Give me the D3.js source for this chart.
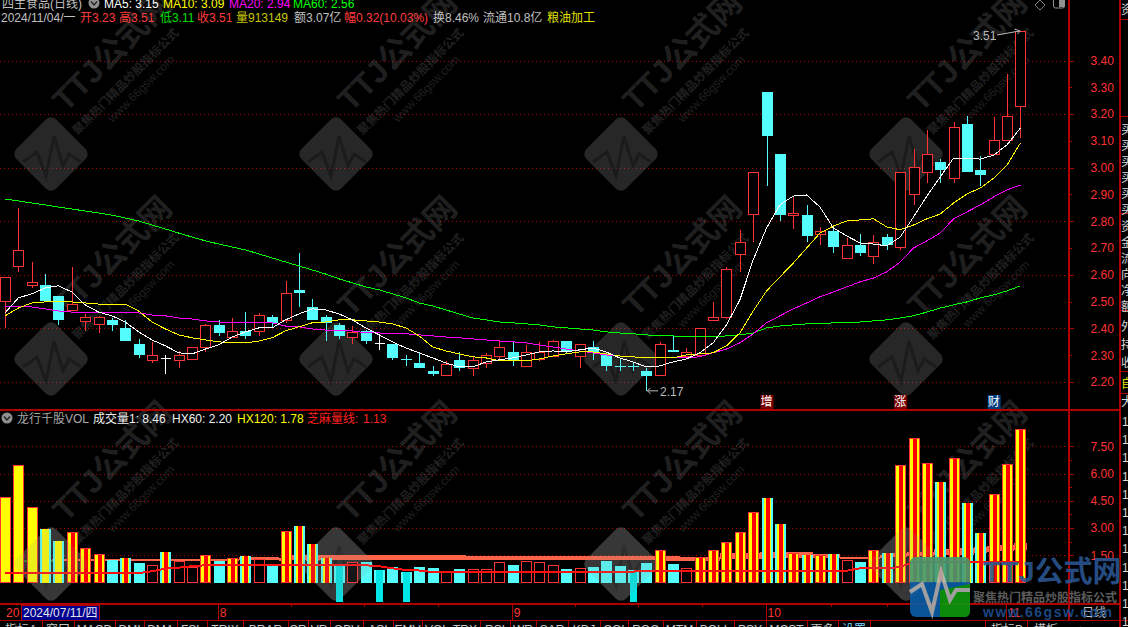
<!DOCTYPE html>
<html>
<head>
<meta charset="utf-8">
<script src="https://cdn.jsdelivr.net/npm/d3@7/dist/d3.min.js"></script>
<style>
  html, body { margin: 0; background: #000; overflow: hidden; }
  svg { display: block; }
  text { font-family: "Liberation Sans", "Noto Sans CJK SC", sans-serif; font-size: 12px; }
</style>
</head>
<body>
<svg id="s" width="1128" height="627"></svg>
<script>
// Daily prices, one entry per session
const opens = [2.500,2.632,2.560,2.562,2.521,2.470,2.429,2.418,2.432,2.402,2.342,2.280,2.289,2.280,2.287,2.330,2.413,2.368,2.390,2.388,
  2.443,2.429,2.544,2.480,2.443,2.413,2.370,2.392,2.342,2.342,2.287,2.271,2.241,2.228,2.283,2.252,2.269,2.298,2.312,2.258,
  2.286,2.298,2.353,2.298,2.330,2.301,2.259,2.259,2.241,2.226,2.319,2.297,2.301,2.429,2.442,2.679,2.828,3.282,3.051,2.821,
  2.823,2.750,2.765,2.660,2.711,2.668,2.741,2.702,2.901,2.981,3.021,2.959,3.163,2.991,3.048,3.101,3.23],
  closes = [2.591,2.692,2.572,2.503,2.432,2.491,2.443,2.443,2.413,2.353,2.301,2.300,2.289,2.300,2.330,2.412,2.383,2.390,2.372,2.449,
  2.419,2.531,2.532,2.432,2.420,2.372,2.388,2.353,2.342,2.289,2.284,2.254,2.231,2.269,2.254,2.281,2.300,2.330,2.284,2.311,
  2.311,2.353,2.311,2.341,2.311,2.260,2.254,2.255,2.223,2.341,2.312,2.311,2.401,2.442,2.621,2.722,2.983,3.116,2.823,2.830,
  2.743,2.763,2.705,2.710,2.683,2.722,2.711,2.983,3.001,3.050,2.991,3.151,2.984,2.973,3.102,3.192,3.51],
  highs = [2.591,2.848,2.647,2.602,2.521,2.628,2.454,2.447,2.438,2.432,2.361,2.350,2.301,2.315,2.330,2.416,2.432,2.439,2.462,2.459,
  2.449,2.577,2.682,2.510,2.450,2.420,2.409,2.394,2.376,2.342,2.301,2.311,2.260,2.279,2.311,2.297,2.310,2.355,2.352,2.339,
  2.351,2.357,2.353,2.342,2.353,2.309,2.291,2.270,2.252,2.351,2.375,2.326,2.401,2.498,2.628,2.768,2.983,3.282,3.051,2.892,
  2.861,2.780,2.780,2.739,2.753,2.749,2.753,2.983,3.070,3.141,3.032,3.170,3.193,3.044,3.189,3.350,3.51],
  lows = [2.403,2.612,2.552,2.503,2.413,2.470,2.392,2.384,2.392,2.353,2.291,2.272,2.231,2.254,2.284,2.313,2.373,2.363,2.362,2.373,
  2.401,2.422,2.480,2.432,2.353,2.361,2.342,2.342,2.320,2.283,2.260,2.253,2.224,2.224,2.241,2.224,2.254,2.283,2.261,2.258,
  2.280,2.297,2.305,2.254,2.283,2.241,2.241,2.241,2.167,2.226,2.312,2.295,2.301,2.429,2.434,2.612,2.724,2.933,2.800,2.771,
  2.724,2.711,2.683,2.660,2.670,2.642,2.693,2.693,2.861,2.944,2.944,2.943,2.984,2.932,3.048,3.101,3.11];

// Moving averages
const ma5 = [2.458,2.514,2.529,2.551,2.559,2.536,2.488,2.461,2.447,2.424,2.387,2.357,2.335,2.309,2.305,2.323,2.339,2.368,2.387,2.402,
  2.402,2.432,2.454,2.473,2.469,2.454,2.432,2.402,2.376,2.350,2.327,2.309,2.290,2.271,2.256,2.256,2.275,2.283,2.290,2.301,
  2.312,2.316,2.312,2.320,2.327,2.312,2.290,2.275,2.256,2.260,2.275,2.286,2.309,2.346,2.413,2.506,2.656,2.775,2.861,2.894,
  2.898,2.853,2.775,2.745,2.719,2.715,2.708,2.741,2.816,2.894,2.965,3.036,3.036,3.032,3.047,3.085,3.148],
  ma10 = [2.447,2.476,2.495,2.499,2.499,2.499,2.495,2.491,2.491,2.491,2.465,2.424,2.398,2.376,2.365,2.357,2.350,2.346,2.346,2.353,
  2.365,2.391,2.406,2.421,2.424,2.432,2.432,2.428,2.424,2.417,2.402,2.372,2.331,2.316,2.305,2.294,2.290,2.279,2.279,2.279,
  2.286,2.297,2.305,2.312,2.312,2.305,2.297,2.294,2.290,2.290,2.290,2.301,2.305,2.309,2.335,2.383,2.465,2.540,2.592,2.644,
  2.700,2.756,2.782,2.801,2.805,2.809,2.779,2.768,2.786,2.809,2.827,2.868,2.902,2.924,2.961,3.010,3.092],
  ma20 = [2.480,2.480,2.480,2.473,2.465,2.461,2.458,2.458,2.458,2.461,2.458,2.450,2.447,2.439,2.435,2.428,2.424,2.421,2.421,2.424,
  2.421,2.409,2.406,2.398,2.394,2.394,2.391,2.383,2.383,2.380,2.380,2.376,2.372,2.368,2.365,2.361,2.357,2.353,2.350,2.346,
  2.338,2.331,2.323,2.316,2.309,2.301,2.297,2.294,2.290,2.290,2.290,2.290,2.294,2.309,2.323,2.346,2.380,2.421,2.447,2.473,
  2.495,2.518,2.536,2.555,2.574,2.588,2.611,2.648,2.700,2.727,2.756,2.809,2.835,2.861,2.891,2.917,2.935],
  ma60 = [2.883,2.876,2.868,2.861,2.853,2.846,2.838,2.831,2.823,2.812,2.801,2.786,2.771,2.756,2.741,2.727,2.715,2.704,2.693,2.678,
  2.663,2.648,2.633,2.618,2.603,2.585,2.570,2.555,2.544,2.529,2.514,2.495,2.484,2.469,2.454,2.439,2.432,2.424,2.421,2.417,
  2.413,2.406,2.402,2.398,2.394,2.387,2.383,2.380,2.376,2.372,2.372,2.368,2.368,2.368,2.372,2.376,2.383,2.402,2.409,2.413,
  2.417,2.417,2.421,2.421,2.424,2.428,2.432,2.439,2.447,2.461,2.476,2.488,2.499,2.514,2.525,2.540,2.559];

// Volume panel. Kinds: Y yellow, U cyan/yellow, R red stripes, C cyan stripes, S solid cyan, H hollow red
const volume = [4.69,6.46,4.14,2.95,2.29,2.76,1.88,1.57,1.24,1.33,1.07,0.95,1.68,1.18,0.87,1.50,1.18,1.33,1.46,1.31,
  0.91,2.84,3.11,2.12,1.33,0.96,1.11,1.13,0.69,0.84,0.58,0.85,0.78,0.65,0.74,0.76,0.73,1.11,0.96,1.17,
  1.11,0.95,0.74,0.78,0.85,1.18,0.91,0.69,1.07,1.79,1.02,0.78,1.42,1.79,2.23,2.76,3.88,4.66,3.22,1.64,
  1.52,1.52,1.57,1.24,1.13,1.79,1.61,6.47,7.94,6.57,5.52,6.84,4.36,2.71,4.86,6.53,8.46],
  volumeKind = "YYYUURRRSCSHCHHRSRCHSRCCCSHSSSSSSHSHHHSHHHSHSSSSSRSHRRRRRCCRCRCHSRCRRRCRCCRRR".split(""),
  hx60 = [null,null,null,null,1.29,1.29,1.29,1.29,1.29,1.29,1.29,1.29,1.29,1.29,1.29,1.29,1.29,1.29,1.40,1.38,
  1.38,1.35,1.49,1.54,1.52,1.52,1.52,1.52,1.52,1.52,1.52,1.52,1.52,1.52,1.52,1.46,1.46,1.46,1.46,1.46,
  1.46,1.46,1.46,1.46,1.46,1.46,1.46,1.46,1.46,1.46,1.46,1.42,1.42,1.42,1.60,1.63,1.60,1.68,1.70,1.68,
  1.68,1.57,1.57,1.42,1.42,1.42,1.52,1.61,1.68,1.70,1.83,1.85,1.90,1.96,2.01,2.07,2.20],
  hx120 = [null,null,null,null,1.21,1.21,1.21,1.21,1.21,1.21,1.21,1.21,1.21,1.21,1.21,1.21,1.21,1.21,1.24,1.24,
  1.24,1.21,1.24,1.21,1.24,1.24,1.24,1.24,1.24,1.24,1.24,1.24,1.24,1.24,1.24,1.24,1.24,1.24,1.24,1.24,
  1.24,1.24,1.24,1.24,1.24,1.24,1.24,1.24,1.24,1.24,1.21,1.18,1.18,1.18,1.27,1.29,1.29,1.32,1.35,1.35,
  1.35,1.33,1.33,1.31,1.31,1.31,1.37,1.42,1.46,1.46,1.52,1.52,1.54,1.63,1.68,1.74,1.78],
  sesameLine = [0.52,0.52,0.52,0.52,0.52,0.52,0.52,0.52,0.52,0.52,0.52,0.62,0.76,0.82,0.90,0.95,0.95,0.95,0.95,0.95,
  0.95,0.95,0.95,0.95,0.95,0.95,0.95,0.95,0.90,0.78,0.69,0.66,0.58,0.58,0.58,0.58,0.58,0.58,0.58,0.58,
  0.58,0.58,0.58,0.58,0.58,0.58,0.58,0.60,0.65,0.65,0.65,0.65,0.65,0.65,0.65,0.65,0.65,0.65,0.65,0.65,
  0.65,0.65,0.65,0.65,0.78,0.78,0.78,0.85,1.13,1.13,1.13,1.13,1.13,1.13,1.13,1.13,1.13],
  earlyLine = [1.18,1.18,1.18,1.18,1.18],
  dropIndex = [25,28,30,47],
  dropTop = [0.96,0.69,0.58,0.60],
  dropLow = -1.06;

// Axis labels
const priceTicks = [2.2,2.3,2.4,2.5,2.6,2.7,2.8,2.9,3.0,3.1,3.2,3.3,3.4],
  priceGrid = [2.2,2.4,2.6,2.8,3.0,3.2,3.4],
  volumeTicks = [1.5,3,4.5,6,7.5],
  volumeMinor = [0.75,2.25,3.75,5.25,6.75],
  monthIndex = [16,38,57,75],
  monthLabels = ["8","9","10","11"],
  weekTicks = [21.4,26.9,32.4,42.7,47.4,52.2,61.8,66],
  signalIndex = [57,67,74],
  signalLabels = ["增","涨","财"],
  signalColors = ["#7a0000","#7a0000","#003c80"],
  tabNames = ["指标A","窗口","MACD","DMI","DMA","FSL","TRIX","BRAR","CR","VR","OBV","ASI","EMV","VOL-TRX","RSI","WR","SAR","KDJ","COI","ROC","MTM","BOLL","PSY","MCST","更多","设置"],
  tabEdges = [42,74,115,144,177,207,243,288,308,330,363,393,422,480,510,536,568,600,628,663,696,734,766,807,838,870];

const UP = "#ff3333", DOWN = "#54fcfc", LINE = "#b00000", GRID = "#b00000", SALMON = "#ff6347";

const svg = d3.select("#s"),
  x = d3.scaleLinear().domain([0, 76]).range([5, 1020.4]),
  y = d3.scaleLinear().domain([2.2, 3.4]).range([382, 60.5]),
  v = d3.scaleLinear().domain([0, 7.5]).range([582.5, 446.4]),
  px = i => Math.round(x(i)) + 0.5,
  ix = d3.range(opens.length);

svg.append("rect").attr("width", 1128).attr("height", 627).attr("fill", "#000");

// dotted gridlines
const gridLine = (sel, vals, sc) => sel.selectAll(null).data(vals).join("line")
  .attr("x1", 0).attr("x2", 1068)
  .attr("y1", d => Math.round(sc(d)) + 0.5).attr("y2", d => Math.round(sc(d)) + 0.5)
  .attr("stroke", GRID).attr("stroke-dasharray", "1 3").attr("shape-rendering", "crispEdges");
gridLine(svg.append("g"), priceGrid, y);
gridLine(svg.append("g"), volumeTicks, v);

// tiled site watermark sits under the price marks, the reference keeps them vivid
const wm = svg.append("g").attr("pointer-events", "none");
const WM = "#8c8c8c";
[-51, 154, 359, 564].forEach(dy => [51, 336, 621, 906].forEach(dx => {
  const logo = wm.append("g").attr("transform", `translate(${dx},${dy})`);
  logo.append("rect").attr("x", -28).attr("y", -28).attr("width", 56).attr("height", 56).attr("rx", 7)
    .attr("transform", "rotate(45)").attr("fill", WM).attr("opacity", 0.28);
  logo.append("path").attr("d", "M-28 8L-14 -2L-5 22L3 -18L12 12L18 0L30 8")
    .attr("fill", "none").attr("stroke", "#000").attr("stroke-opacity", 0.3).attr("stroke-width", 3);
  const tag = wm.append("g").attr("transform", `translate(${dx + 69},${dy - 95}) rotate(-45)`)
    .attr("fill", WM).attr("opacity", 0.22).attr("text-anchor", "middle");
  tag.append("text").style("font-size", "32px").style("font-weight", "bold").text("TTJ公式网");
  tag.append("text").attr("x", -12).attr("y", 24).style("font-size", "12px").style("font-weight", "bold").text("聚焦热门精品炒股指标公式");
  tag.append("text").attr("x", -6).attr("y", 40).style("font-size", "12px").text("www.66gsw.com");
}));

// candles
const candles = svg.append("g").selectAll("g").data(ix).join("g");
const colorOf = i => closes[i] > opens[i] ? UP : closes[i] < opens[i] ? DOWN : "#fff";
candles.append("line")
  .attr("x1", px).attr("x2", px)
  .attr("y1", i => y(highs[i])).attr("y2", i => y(lows[i]))
  .attr("stroke", colorOf).attr("shape-rendering", "crispEdges");
candles.filter(i => closes[i] > opens[i]).append("rect")
  .attr("x", i => px(i) - 5).attr("width", 10)
  .attr("y", i => Math.round(y(closes[i])) + 0.5)
  .attr("height", i => Math.round(y(opens[i]) - y(closes[i])))
  .attr("fill", "#000").attr("stroke", UP).attr("shape-rendering", "crispEdges");
candles.filter(i => closes[i] < opens[i]).append("rect")
  .attr("x", i => px(i) - 5.5).attr("width", 11)
  .attr("y", i => Math.round(y(opens[i])))
  .attr("height", i => Math.max(1, Math.round(y(closes[i]) - y(opens[i]))))
  .attr("fill", DOWN).attr("shape-rendering", "crispEdges");
candles.filter(i => closes[i] === opens[i]).append("line")
  .attr("x1", i => px(i) - 5).attr("x2", i => px(i) + 5)
  .attr("y1", i => y(opens[i])).attr("y2", i => y(opens[i]))
  .attr("stroke", "#fff").attr("shape-rendering", "crispEdges");

// moving averages
const maLine = d3.line().x((d, i) => x(i)).y(d => y(d));
[[ma60, "#00ff00"], [ma20, "#ff00ff"], [ma10, "#ffff00"], [ma5, "#ffffff"]].forEach(([s, c]) => {
  svg.append("path").attr("d", maLine(s)).attr("fill", "none").attr("stroke", c).attr("stroke-width", 1).attr("shape-rendering", "crispEdges");
});

// extreme price callouts
const note = (i, val, tx, ty, x1, y1, x2, y2) => {
  svg.append("text").attr("x", tx).attr("y", ty).attr("fill", "#b8b8b8").text(val.toFixed(2));
  svg.append("line").attr("x1", x1).attr("y1", y1).attr("x2", x2).attr("y2", y2).attr("stroke", "#b8b8b8");
};
note(76, highs[76], 973, 40, 997, 35, x(76) - 1, y(3.51));
note(48, lows[48], 660, 396, px(48) + 1, y(2.167), 658, y(2.167));
svg.append("path").attr("d", `M${x(76) - 6} ${y(3.51) - 2}L${x(76)} ${y(3.51)}L${x(76) - 3} ${y(3.51) + 3}`).attr("fill", "none").attr("stroke", "#b8b8b8");
svg.append("path").attr("d", `M${px(48) + 4} ${y(2.167) - 3}L${px(48) + 1} ${y(2.167)}L${px(48) + 4} ${y(2.167) + 3}`).attr("fill", "none").attr("stroke", "#b8b8b8");

// signal chips along the bottom of the price panel
const chips = svg.append("g").selectAll("g").data(signalIndex).join("g");
chips.append("rect").attr("x", d => x(d) - 6).attr("y", 395).attr("width", 13).attr("height", 14)
  .attr("fill", (d, i) => signalColors[i]);
chips.append("text").attr("x", d => x(d) - 6).attr("y", 406).attr("fill", "#fff").text((d, i) => signalLabels[i]);

// volume band behind the bars
const bandIx = ix.filter(i => hx60[i] !== null);
svg.append("g").attr("shape-rendering", "crispEdges").selectAll("rect").data(bandIx).join("rect")
  .attr("x", i => x(i) - 6.7).attr("width", 13.4)
  .attr("y", i => v(hx60[i])).attr("height", i => v(hx120[i]) - v(hx60[i]))
  .attr("fill", SALMON);
svg.append("path")
  .attr("d", d3.line().x((d, i) => x(i)).y(d => v(d))(earlyLine))
  .attr("fill", "none").attr("stroke", "#30d030").attr("stroke-dasharray", "5 4");

// volume bars
const bars = svg.append("g").attr("shape-rendering", "crispEdges").selectAll("g").data(ix).join("g");
const barY = i => Math.round(v(volume[i])), barH = i => Math.round(v(0)) - barY(i);
const fillFor = { Y: "#ffff00", U: DOWN, R: "#ffff00", C: DOWN, S: DOWN, H: "#000" };
bars.append("rect")
  .attr("x", i => px(i) - 5.5).attr("width", 11)
  .attr("y", barY).attr("height", barH)
  .attr("fill", i => fillFor[volumeKind[i]]);
// inner stripes
bars.filter(i => "UC".includes(volumeKind[i])).append("rect")
  .attr("x", i => px(i) - 3.5).attr("width", 7)
  .attr("y", barY).attr("height", barH).attr("fill", "#ffff00");
bars.filter(i => "RC".includes(volumeKind[i])).append("rect")
  .attr("x", i => px(i) - 1.5).attr("width", 4)
  .attr("y", barY).attr("height", barH).attr("fill", "#ff0000");
// red frame on up bars
bars.filter(i => "YRH".includes(volumeKind[i])).append("rect")
  .attr("x", i => px(i) - 5).attr("width", 10)
  .attr("y", i => barY(i) + 0.5).attr("height", i => barH(i) - 1)
  .attr("fill", "none").attr("stroke", UP);

// stems below the zero line
svg.append("g").attr("shape-rendering", "crispEdges").selectAll("rect").data(dropIndex).join("rect")
  .attr("x", i => px(i) - 3.5).attr("width", 7)
  .attr("y", (d, k) => v(dropTop[k])).attr("height", (d, k) => v(dropLow) - v(dropTop[k]))
  .attr("fill", "#00e6e6");

svg.append("path")
  .attr("d", d3.line().x((d, i) => x(i)).y(d => v(d))(sesameLine))
  .attr("fill", "none").attr("stroke", "#ff1010").attr("stroke-width", 2).attr("shape-rendering", "crispEdges");

// a faint copy of the diamonds over the volume bars
const veil = svg.append("g").attr("pointer-events", "none");
[51, 336, 621, 906].forEach(dx => veil.append("rect").attr("x", -28).attr("y", -28).attr("width", 56).attr("height", 56).attr("rx", 7)
  .attr("transform", `translate(${dx},564) rotate(45)`).attr("fill", WM).attr("opacity", 0.16));

// axes
const axisText = g => {
  g.select(".domain").remove();
  g.selectAll("line").attr("stroke", LINE).attr("shape-rendering", "crispEdges");
  g.selectAll("text").attr("fill", UP).style("font-family", null).style("font-size", null)
    .attr("font-family", null).attr("font-size", null);
};
svg.append("g").attr("transform", "translate(1068.5,0)")
  .call(d3.axisRight(y).tickValues(priceTicks).tickSize(3).tickPadding(19).tickFormat(d3.format(".2f")))
  .call(axisText);
svg.append("g").attr("transform", "translate(1068.5,0)")
  .call(d3.axisRight(y).tickValues(priceGrid).tickSize(5).tickFormat(""))
  .call(axisText);
svg.append("g").attr("transform", "translate(1068.5,0)")
  .call(d3.axisRight(v).tickValues(volumeTicks).tickSize(5).tickPadding(17).tickFormat(d3.format(".2f")))
  .call(axisText);
svg.append("g").attr("transform", "translate(1068.5,0)")
  .call(d3.axisRight(v).tickValues(volumeMinor).tickSize(3).tickFormat(""))
  .call(axisText);

// frame
const frame = svg.append("g").attr("stroke", LINE).attr("shape-rendering", "crispEdges");
[[0, 409.5, 1119, 409.5, 2], [0, 604, 1119, 604, 2], [0, 620.5, 1128, 620.5, 1], [1068.5, 0, 1068.5, 620, 2], [1119.5, 0, 1119.5, 627, 2],
  [1119, 19.5, 1128, 19.5, 1], [1119, 116.5, 1128, 116.5, 1], [1119, 213.5, 1128, 213.5, 1], [1119, 310.5, 1128, 310.5, 1], [1119, 371.5, 1128, 371.5, 1], [1119, 393.5, 1128, 393.5, 1]]
  .forEach(l => frame.append("line").attr("x1", l[0]).attr("y1", l[1]).attr("x2", l[2]).attr("y2", l[3]).attr("stroke-width", l[4]));

// time strip
svg.append("g").attr("transform", "translate(0,605)")
  .call(d3.axisBottom(x).tickValues(weekTicks).tickSize(2).tickFormat(""))
  .call(axisText);
const months = svg.append("g").selectAll("g").data(monthIndex).join("g");
months.append("line").attr("x1", d => Math.round(x(d)) - 0.5).attr("x2", d => Math.round(x(d)) - 0.5).attr("y1", 604).attr("y2", 620)
  .attr("stroke", LINE).attr("shape-rendering", "crispEdges");
months.append("text").attr("x", d => x(d) + 1).attr("y", 617).attr("fill", UP).text((d, i) => monthLabels[i]);
svg.append("text").attr("x", 6).attr("y", 617).attr("fill", UP).text("20");
svg.append("rect").attr("x", 21).attr("y", 605).attr("width", 78).attr("height", 15).attr("fill", "#000090").attr("stroke", LINE).attr("shape-rendering", "crispEdges");
svg.append("text").attr("x", 23).attr("y", 617).attr("fill", "#e8e8e8").text("2024/07/11/四");
svg.append("text").attr("x", 1082).attr("y", 617).attr("fill", "#c8c8c8").text("日线");

// tab strip, cut off by the window edge
const tabs = svg.append("g").selectAll("g").data(tabNames).join("g");
tabs.append("line").attr("x1", (d, i) => tabEdges[i] + 0.5).attr("x2", (d, i) => tabEdges[i] + 0.5).attr("y1", 620).attr("y2", 627)
  .attr("stroke", LINE).attr("shape-rendering", "crispEdges");
tabs.append("text")
  .attr("x", (d, i) => ((i ? tabEdges[i - 1] : 0) + tabEdges[i]) / 2).attr("y", 634)
  .attr("text-anchor", "middle")
  .attr("fill", d => d === "设置" ? "#7fd8ff" : "#c8c8c8").text(d => d);
[985, 1027].forEach(e => svg.append("line").attr("x1", e + 0.5).attr("x2", e + 0.5).attr("y1", 620).attr("y2", 627).attr("stroke", LINE));
[["指标B", 991], ["模板", 1034], ["+", 1077]].forEach(t => svg.append("text").attr("x", t[1]).attr("y", 634).attr("fill", "#c8c8c8").text(t[0]));

// header rows
const put = (t, tx, ty, c) => svg.append("text").attr("x", tx).attr("y", ty).attr("fill", c).text(t);
const GRAY = "#c0c0c0", GOLD = "#c8c800", RED = "#ff3c3c", GREEN = "#00e000";
const circleMark = (cx, cy) => {
  svg.append("circle").attr("cx", cx).attr("cy", cy).attr("r", 5.5).attr("fill", "#909090");
  svg.append("path").attr("d", `M${cx - 3} ${cy - 1.5}L${cx} ${cy + 2}L${cx + 3} ${cy - 1.5}`).attr("fill", "none").attr("stroke", "#222").attr("stroke-width", 1.4);
};
put("四主食品(日线)", 2, 8, GRAY);
circleMark(94, 3);
put("MA5: 3.15", 104, 8, "#fff");
put("MA10: 3.09", 163, 8, "#ffff00");
put("MA20: 2.94", 229, 8, "#ff00ff");
put("MA60: 2.56", 293, 8, "#00ff00");
[["2024/11/04/一", 1, GRAY], ["开", 80, RED], ["3.23", 92, RED], ["高", 119, RED], ["3.51", 131, RED], ["低", 160, GREEN], ["3.11", 172, GREEN],
  ["收", 197, RED], ["3.51", 209, RED], ["量", 236, GOLD], ["913149", 248, GOLD], ["额3.07亿", 294, GRAY], ["幅", 344, RED], ["0.32(10.03%)", 356, RED],
  ["换8.46%", 433, GRAY], ["流通10.8亿", 483, GRAY], ["粮油加工", 547, "#e0e000"]]
  .forEach(t => put(t[0], t[1], 22, t[2]));
svg.append("path").attr("d", "M1040 0L1045 5L1040 10L1035 5Z").attr("fill", "none").attr("stroke", "#808080");
svg.append("rect").attr("x", 1053.5).attr("y", -3).attr("width", 11).attr("height", 11).attr("rx", 2).attr("fill", "none").attr("stroke", "#909090");
svg.append("rect").attr("x", 1059).attr("y", -2).attr("width", 5).attr("height", 9).attr("fill", "#909090");

circleMark(7, 418);
put("龙行千股VOL", 17, 423, "#a8a8a8");
put("成交量1: 8.46", 93, 423, "#f0f0f0");
put("HX60: 2.20", 172, 423, "#f0f0f0");
put("HX120: 1.78", 237, 423, "#ffff00");
put("芝麻量线:", 307, 423, "#ff2020");
put("1.13", 363, 423, "#ff2020");

// clipped side column
const side = (chars, y0, step, c) => chars.split("").forEach((ch, k) => put(ch, 1121, y0 + k * step, c));
side("资", 14, 14, "#d8d8d8");
side("买买买买买买", 134, 16, "#d8d8d8");
side("资金流向净额", 231, 16, "#d8d8d8");
side("外持收", 331, 18, "#d8d8d8");
put("自", 1121, 388, "#e0e000");
put("大", 1121, 406, "#d8d8d8");
d3.range(12).forEach(k => put("1", 1122, 426 + k * 18.2, "#d8d8d8"));

// corner brand
const brand = svg.append("g").attr("opacity", 0.9);
brand.append("rect").attr("x", 910).attr("y", 557).attr("width", 60).attr("height", 60).attr("rx", 6).attr("fill", "#0a5ea8");
brand.append("path").attr("d", "M940 617L964 617Q970 617 970 611L970 584L940 590Z").attr("fill", "#0d9a0d");
brand.append("path").attr("d", "M916 557L964 557Q970 557 970 563L970 582L910 582L910 563Q910 557 916 557Z").attr("fill", "#7ac943").attr("opacity", 0.55);
brand.append("path").attr("d", "M910 592L922 584L932 612L941 572L950 600L956 590L970 590")
  .attr("fill", "none").attr("stroke", "#b0b0b0").attr("stroke-width", 4);
brand.append("text").attr("x", 983).attr("y", 582).attr("fill", "#2a5490").style("font-size", "29px").style("font-weight", "bold").text("TTJ公式网");
brand.append("text").attr("x", 973).attr("y", 602).attr("fill", "#666").style("font-weight", "bold").text("聚焦热门精品炒股指标公式");
brand.append("text").attr("x", 983).attr("y", 617).attr("fill", "#1f4f90").style("font-size", "14px").style("font-weight", "bold").style("letter-spacing", "1.5px").text("www.66gsw.com");
</script>
</body>
</html>
